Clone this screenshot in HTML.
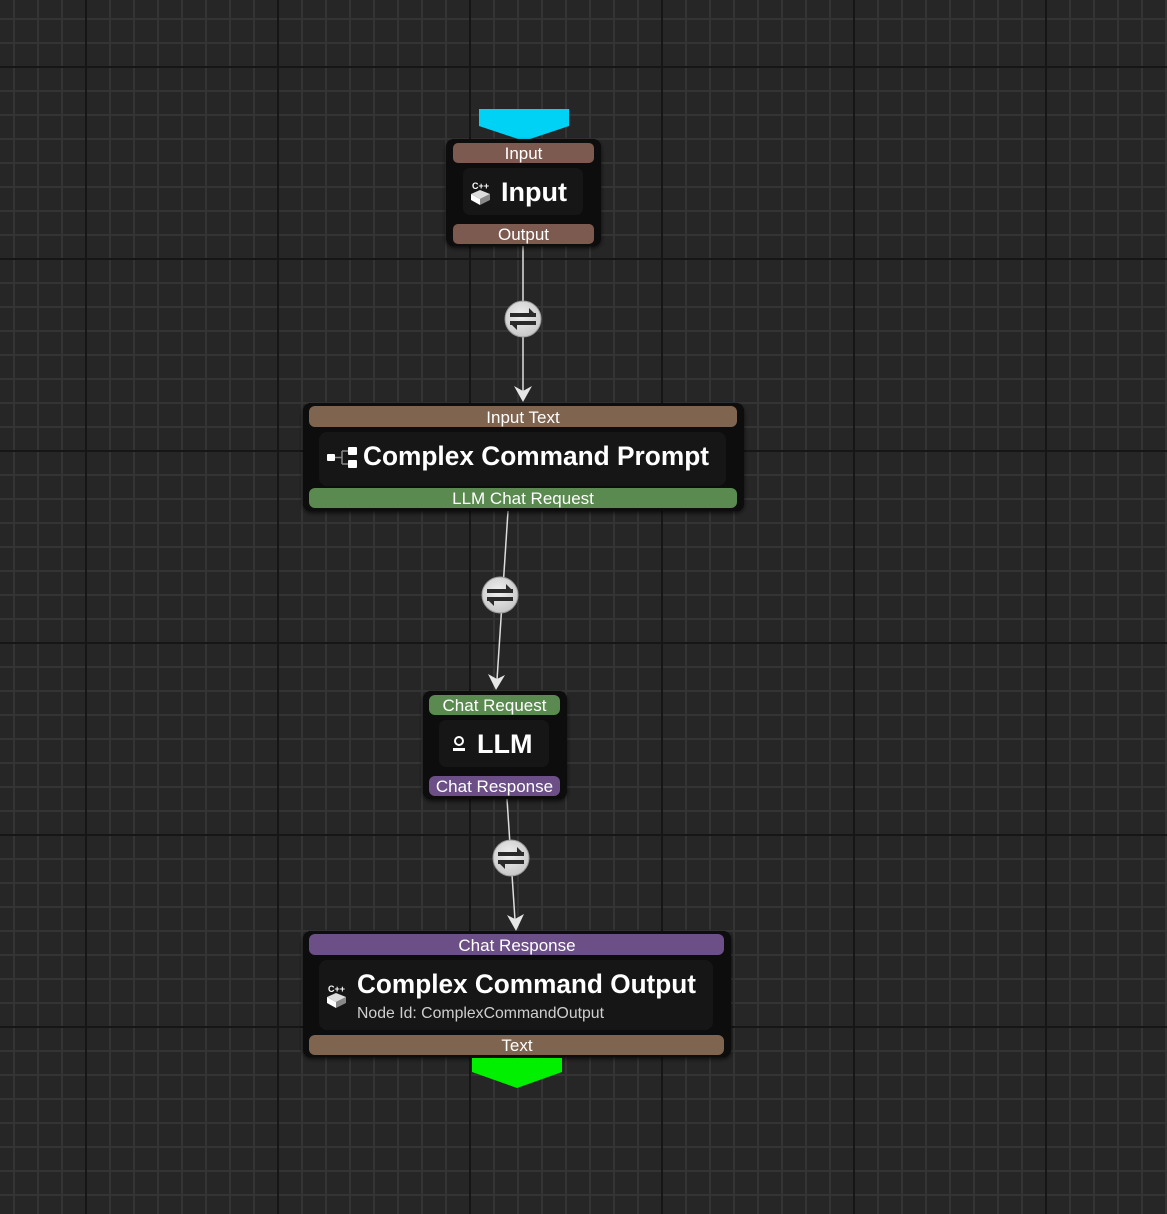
<!DOCTYPE html>
<html><head><meta charset="utf-8"><style>
html,body{margin:0;padding:0;background:#262626;}
svg{display:block;}
text{font-family:"Liberation Sans",sans-serif;fill:#fff;}
</style></head><body>
<svg width="1167" height="1214" xmlns="http://www.w3.org/2000/svg">
<defs>
<pattern id="minor" x="13" y="18" width="24" height="24" patternUnits="userSpaceOnUse">
<rect x="0" y="0" width="2" height="24" fill="#343434"/>
<rect x="0" y="0" width="24" height="2" fill="#343434"/>
</pattern>
<pattern id="major" x="85" y="66" width="192" height="192" patternUnits="userSpaceOnUse">
<rect x="0" y="0" width="2" height="192" fill="#161616"/>
<rect x="0" y="0" width="192" height="2" fill="#161616"/>
</pattern>
<radialGradient id="cg" cx="0.45" cy="0.4" r="0.6">
<stop offset="0" stop-color="#f0f0f0"/><stop offset="1" stop-color="#c8c8c8"/>
</radialGradient>
<filter id="sh" x="-10%" y="-10%" width="120%" height="130%"><feDropShadow dx="0" dy="2" stdDeviation="2" flood-color="#000" flood-opacity="0.7"/></filter>
<g id="sw">
<circle r="18" fill="url(#cg)" stroke="#999" stroke-width="1"/>
<rect x="-13" y="-6" width="26" height="4" fill="#2a2a2a"/>
<rect x="-13" y="2" width="26" height="4" fill="#2a2a2a"/>
<path d="M6,-11 L13,-4 L6,-4Z" fill="#2a2a2a"/>
<path d="M-6,11 L-13,4 L-6,4Z" fill="#2a2a2a"/>
</g>
<g id="cpp">
<text x="1" y="7" font-size="9" font-weight="bold" style="fill:#fff">C++</text>
<path d="M0,12 L9,17 L9,23 L0,18Z" fill="#fff"/>
<path d="M9,17 L19,12 L19,18 L9,23Z" fill="#888"/>
<path d="M0,12 L9,8 L19,12 L9,17Z" fill="#ddd"/>
</g>
</defs>
<rect width="1167" height="1214" fill="#262626"/>
<rect width="1167" height="1214" fill="url(#minor)"/>
<rect width="1167" height="1214" fill="url(#major)"/>

<g stroke="#ddd" stroke-width="1.5" fill="none">
<line x1="523" y1="246" x2="523" y2="392"/>
<line x1="508" y1="511" x2="497" y2="680"/>
<line x1="507" y1="799" x2="515" y2="920"/>
</g>
<g fill="#e6e6e6">
<path d="M514,386 L523,402 L532,386 L523,391Z"/>
<path d="M488,674 L496,690 L505,675 L497,679Z"/>
<path d="M507,915 L516,931 L524,914 L515,919Z"/>
</g>
<use href="#sw" x="523" y="319"/>
<use href="#sw" x="500" y="595"/>
<use href="#sw" x="511" y="858"/>

<path d="M479,109 L569,109 L569,126 L524,141 L479,126Z" fill="#00d2f5"/>
<rect x="446" y="139" width="155" height="107" rx="8" fill="#080808" filter="url(#sh)"/>
<rect x="453" y="143" width="141" height="20" rx="5" fill="#7d5a50"/>
<text x="523.5" y="159" font-size="17" text-anchor="middle">Input</text>
<rect x="463" y="168" width="120" height="47" rx="7" fill="#161616"/>
<use href="#cpp" x="471" y="182"/>
<text x="501" y="201" font-size="27" font-weight="bold">Input</text>
<rect x="453" y="224" width="141" height="20" rx="5" fill="#7d5a50"/>
<text x="523.5" y="240" font-size="17" text-anchor="middle">Output</text>

<rect x="303" y="403" width="441" height="108" rx="8" fill="#080808" filter="url(#sh)"/>
<rect x="309" y="406" width="428" height="21" rx="6" fill="#7f6450"/>
<text x="523" y="423" font-size="17" text-anchor="middle">Input Text</text>
<rect x="319" y="432" width="407" height="54" rx="8" fill="#161616"/>
<rect x="327" y="454" width="8" height="7" rx="1" fill="#fff"/>
<path d="M335,457.5 L342,457.5 M342,451 L342,464 M342,451 L348,451 M342,464 L348,464" stroke="#888" stroke-width="1.5" fill="none"/>
<rect x="348" y="447" width="9" height="8" rx="1" fill="#fff"/>
<rect x="348" y="460" width="9" height="8" rx="1" fill="#fff"/>
<text x="363" y="465" font-size="27" font-weight="bold" textLength="346" lengthAdjust="spacingAndGlyphs">Complex Command Prompt</text>
<rect x="309" y="488" width="428" height="20" rx="6" fill="#5a8a50"/>
<text x="523" y="504" font-size="17" text-anchor="middle">LLM Chat Request</text>

<rect x="423" y="691" width="144" height="108" rx="8" fill="#080808" filter="url(#sh)"/>
<rect x="429" y="695" width="131" height="20" rx="6" fill="#5a8a50"/>
<text x="494.5" y="711" font-size="17" text-anchor="middle">Chat Request</text>
<rect x="439" y="720" width="110" height="47" rx="7" fill="#161616"/>
<circle cx="459" cy="741" r="4" fill="none" stroke="#fff" stroke-width="2"/>
<rect x="453" y="748" width="12" height="3" fill="#fff"/>
<text x="477" y="753" font-size="27" font-weight="bold">LLM</text>
<rect x="429" y="776" width="131" height="20" rx="6" fill="#6b4f86"/>
<text x="494.5" y="792" font-size="17" text-anchor="middle">Chat Response</text>

<rect x="303" y="931" width="428" height="126" rx="8" fill="#080808" filter="url(#sh)"/>
<rect x="309" y="934" width="415" height="21" rx="6" fill="#6b4f86"/>
<text x="517" y="951" font-size="17" text-anchor="middle">Chat Response</text>
<rect x="319" y="960" width="394" height="70" rx="8" fill="#161616"/>
<use href="#cpp" x="327" y="985"/>
<text x="357" y="993" font-size="27" font-weight="bold" textLength="339" lengthAdjust="spacingAndGlyphs">Complex Command Output</text>
<text x="357" y="1018" font-size="16" style="fill:#cfcfcf" textLength="247" lengthAdjust="spacingAndGlyphs">Node Id: ComplexCommandOutput</text>
<rect x="309" y="1035" width="415" height="20" rx="6" fill="#7f6450"/>
<text x="517" y="1051" font-size="17" text-anchor="middle">Text</text>
<path d="M472,1058 L562,1058 L562,1072 L517,1088 L472,1072Z" fill="#00f000"/>
</svg>
</body></html>
